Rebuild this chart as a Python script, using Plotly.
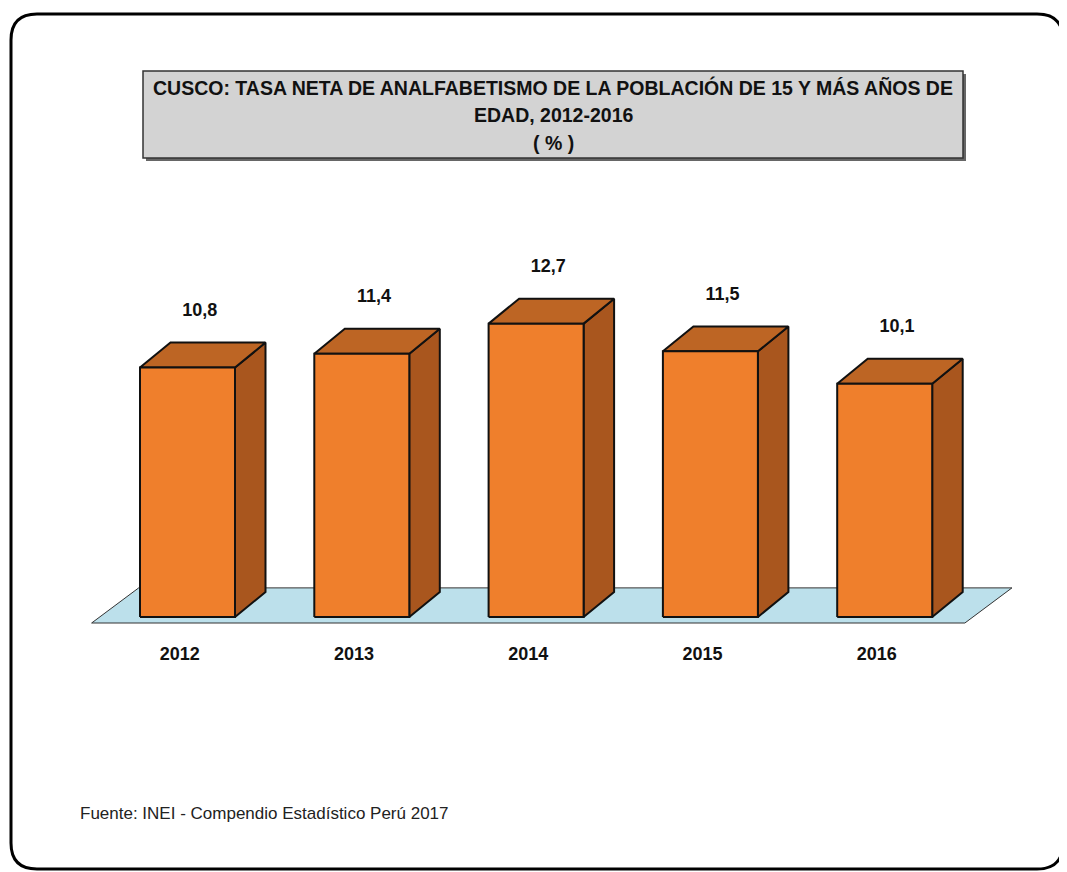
import plotly.graph_objects as go

# ---- data ----
years = ["2012", "2013", "2014", "2015", "2016"]
values = [10.8, 11.4, 12.7, 11.5, 10.1]
value_labels = ["10,8", "11,4", "12,7", "11,5", "10,1"]

title_lines = ["CUSCO: TASA NETA DE ANALFABETISMO DE LA POBLACIÓN DE 15 Y MÁS AÑOS DE",
               "EDAD, 2012-2016", "( % )"]
source_text = "Fuente: INEI - Compendio Estadístico Perú 2017"

# ---- style / geometry (in axis units) ----
HW = 0.2725      # half width of bar front
DX = 0.175       # depth offset in x
DY = 1.08        # depth offset in y
FRONT = "#EF7F2C"
SIDE = "#A9561E"
TOP = "#BD6524"
FLOOR = "#BCE0EB"
EDGE = "#111111"
FONT = "Liberation Sans, Arial, sans-serif"

W, H = 1067, 872
OFF = 8  # page body margin
x0_px, dx_px = 187.5 - OFF, 174.3
y0_px, dy_px = 617.0 - OFF, 23.1
xr = [-x0_px / dx_px, (W - x0_px) / dx_px]
yr = [-(H - y0_px) / dy_px, y0_px / dy_px]


def px(x):
    return (x - OFF) / W


def py(y):
    return 1 - (y - OFF) / H


fig = go.Figure()

n = len(values)
# floor parallelogram
fl_front_y, fl_back_y = -0.26, 1.26
fl_l, fl_r = -0.55, (n - 1) + 0.46
fl_shift = 0.27
fig.add_trace(go.Scatter(
    x=[fl_l, fl_r, fl_r + fl_shift, fl_l + fl_shift, fl_l],
    y=[fl_front_y, fl_front_y, fl_back_y, fl_back_y, fl_front_y],
    fill="toself", fillcolor=FLOOR, mode="lines",
    line=dict(color="#333333", width=1), hoverinfo="skip", showlegend=False))

for i, v in enumerate(values):
    xl, xr_ = i - HW, i + HW
    # right side face
    fig.add_trace(go.Scatter(
        x=[xr_, xr_ + DX, xr_ + DX, xr_, xr_],
        y=[0, DY, v + DY, v, 0],
        fill="toself", fillcolor=SIDE, mode="lines",
        line=dict(color=EDGE, width=2), hoverinfo="skip", showlegend=False))
    # top face
    fig.add_trace(go.Scatter(
        x=[xl, xl + DX, xr_ + DX, xr_, xl],
        y=[v, v + DY, v + DY, v, v],
        fill="toself", fillcolor=TOP, mode="lines",
        line=dict(color=EDGE, width=2), hoverinfo="skip", showlegend=False))
    # front face
    fig.add_trace(go.Scatter(
        x=[xl, xr_, xr_, xl, xl],
        y=[0, 0, v, v, 0],
        fill="toself", fillcolor=FRONT, mode="lines",
        line=dict(color=EDGE, width=2), hoverinfo="skip", showlegend=False))

# value labels
fig.add_trace(go.Scatter(
    x=[i + 0.07 for i in range(n)], y=[v + DY + 1.35 for v in values],
    mode="text", text=["<b>" + t + "</b>" for t in value_labels],
    textfont=dict(family=FONT, size=18, color="#111111"),
    hoverinfo="skip", showlegend=False))
# category labels
fig.add_trace(go.Scatter(
    x=[i - 0.045 for i in range(n)], y=[-1.65] * n,
    mode="text", text=["<b>" + t + "</b>" for t in years],
    textfont=dict(family=FONT, size=18, color="#111111"),
    hoverinfo="skip", showlegend=False))

L, T, R, B, RAD = 11, 14, 1063, 869, 26
rx, ry = RAD / W, RAD / H
path = (f"M {px(L)},{py(B) + ry} L {px(L)},{py(T) - ry} "
        f"Q {px(L)},{py(T)} {px(L) + rx},{py(T)} "
        f"L {px(R) - rx},{py(T)} Q {px(R)},{py(T)} {px(R)},{py(T) - ry} "
        f"L {px(R)},{py(B) + ry} Q {px(R)},{py(B)} {px(R) - rx},{py(B)} "
        f"L {px(L) + rx},{py(B)} Q {px(L)},{py(B)} {px(L)},{py(B) + ry} Z")

shapes = [
    dict(type="path", xref="paper", yref="paper", path=path,
         line=dict(color="#000000", width=3), fillcolor="rgba(0,0,0,0)", layer="below"),
    # title shadow
    dict(type="rect", xref="paper", yref="paper",
         x0=px(146), x1=px(966), y0=py(161), y1=py(74),
         fillcolor="#666666", line=dict(width=0), layer="below"),
    # title box
    dict(type="rect", xref="paper", yref="paper",
         x0=px(143), x1=px(963), y0=py(158), y1=py(71),
         fillcolor="#D3D3D3", line=dict(color="#333333", width=1.5), layer="below"),
]

annotations = []
for k, (line, yy) in enumerate(zip(title_lines, [87, 115, 143])):
    annotations.append(dict(
        xref="paper", yref="paper", x=px(553), y=py(yy),
        xanchor="center", yanchor="middle",
        text="<b>" + line + "</b>", showarrow=False,
        font=dict(family=FONT, size=19.5, color="#111111")))
annotations.append(dict(
    xref="paper", yref="paper", x=px(78), y=py(813),
    xanchor="left", yanchor="middle",
    text=source_text, showarrow=False,
    font=dict(family=FONT, size=17, color="#222222")))

fig.update_layout(
    width=W, height=H,
    margin=dict(l=0, r=0, t=0, b=0),
    paper_bgcolor="white", plot_bgcolor="rgba(0,0,0,0)",
    xaxis=dict(range=xr, visible=False, fixedrange=True),
    yaxis=dict(range=yr, visible=False, fixedrange=True),
    shapes=shapes, annotations=annotations,
    showlegend=False,
)

fig.write_html("out.html")
